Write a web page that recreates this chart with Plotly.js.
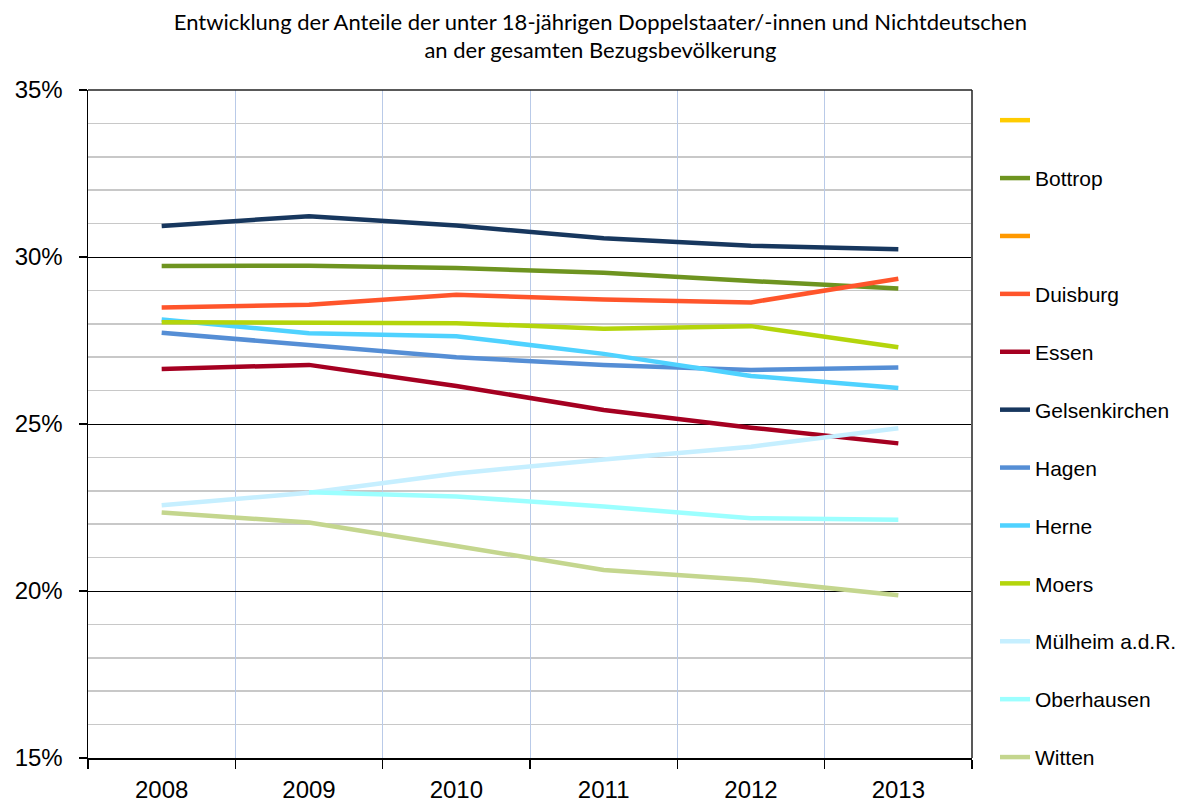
<!DOCTYPE html>
<html>
<head>
<meta charset="utf-8">
<script src="https://cdn.plot.ly/plotly-3.0.1.min.js"></script>
<style>html,body{margin:0;padding:0;background:#fff;}#chart{width:1196px;height:808px;}</style>
</head>
<body>
<div id="chart"></div>
<script>
var years = ['2008','2009','2010','2011','2012','2013'];
var seriesNames = [' ', 'Bottrop', '  ', 'Duisburg', 'Essen', 'Gelsenkirchen', 'Hagen', 'Herne', 'Moers', 'Mülheim a.d.R.', 'Oberhausen', 'Witten'];
var blank1 = [null, null, null, null, null, null];
var bottrop = [29.73, 29.74, 29.67, 29.53, 29.28, 29.06];
var blank2 = [null, null, null, null, null, null];
var duisburg = [28.49, 28.57, 28.87, 28.73, 28.64, 29.35];
var essen = [26.65, 26.77, 26.14, 25.42, 24.89, 24.42];
var gelsenkirchen = [30.93, 31.22, 30.94, 30.56, 30.34, 30.23];
var hagen = [27.73, 27.37, 27.00, 26.77, 26.62, 26.69];
var herne = [28.13, 27.72, 27.63, 27.10, 26.44, 26.08];
var moers = [28.05, 28.05, 28.02, 27.85, 27.93, 27.30];
var muelheim = [22.57, 22.94, 23.52, 23.94, 24.32, 24.87];
var oberhausen = [null, 22.96, 22.83, 22.53, 22.18, 22.13];
var witten = [22.35, 22.05, 21.35, 20.63, 20.33, 19.87];

var values = [blank1, bottrop, blank2, duisburg, essen, gelsenkirchen, hagen, herne, moers, muelheim, oberhausen, witten];
var colors = ['#FFCC00', '#6E9420', '#FF9900', '#FF552B', '#A50021', '#17375E', '#558ED5', '#4FD2FF', '#B4D50C', '#C6EFFF', '#9CFFFF', '#C4D68E'];

var traces = values.map(function (v, i) {
  return {
    type: 'scatter', mode: 'lines', x: years, y: v, name: seriesNames[i],
    legendgroup: 'g' + i, connectgaps: false,
    line: {color: colors[i], width: 4.5},
    hoverinfo: 'skip'
  };
});

var layout = {
  width: 1196, height: 808,
  paper_bgcolor: '#ffffff', plot_bgcolor: '#ffffff',
  margin: {l: 88, r: 224, t: 90, b: 50},
  title: {
    text: 'Entwicklung der Anteile der unter 18-jährigen Doppelstaater/-innen und Nichtdeutschen<br>an der gesamten Bezugsbevölkerung',
    font: {family: 'Lato, sans-serif', size: 22, color: '#000'},
    x: 0.502, xanchor: 'center', y: 0.963, yanchor: 'middle'
  },
  showlegend: true,
  legend: {
    x: 1.026, xanchor: 'left', y: 0.985, yanchor: 'top',
    traceorder: 'grouped', tracegroupgap: 27.6, maxheight: 800,
    font: {family: 'Liberation Sans, Arial, sans-serif', size: 21, color: '#000'},
    bgcolor: 'rgba(0,0,0,0)', itemwidth: 30
  },
  xaxis: {
    type: 'category', range: [-0.5, 5.5], tickson: 'boundaries',
    showgrid: true, gridcolor: '#B9CAE8', gridwidth: 1,
    showline: true, linecolor: '#000', linewidth: 1.5, mirror: false,
    ticks: 'outside', ticklen: 9, tickcolor: '#000', tickwidth: 1.5,
    ticklabelstandoff: 10,
    tickfont: {family: 'Liberation Sans, Arial, sans-serif', size: 24, color: '#000'},
    fixedrange: true, zeroline: false
  },
  yaxis: {
    range: [15, 35], dtick: 5, tick0: 15, ticksuffix: '%',
    showgrid: true, gridcolor: '#000', gridwidth: 1,
    minor: {dtick: 1, showgrid: true, gridcolor: '#C8C8C8', gridwidth: 1.5, ticks: ''},
    showline: true, linecolor: '#000', linewidth: 1.5, mirror: false,
    ticks: 'outside', ticklen: 8, tickcolor: '#000', tickwidth: 1.5,
    ticklabelstandoff: 11,
    tickfont: {family: 'Liberation Sans, Arial, sans-serif', size: 24, color: '#000'},
    fixedrange: true, zeroline: false
  },
  shapes: [
    {type: 'line', xref: 'paper', yref: 'paper', x0: 1, x1: 1, y0: 0, y1: 1, line: {color: '#595959', width: 2}},
    {type: 'line', xref: 'paper', yref: 'paper', x0: 0, x1: 1, y0: 1, y1: 1, line: {color: '#222', width: 1.5}}
  ]
};

Plotly.newPlot('chart', traces, layout, {displayModeBar: false, staticPlot: true});
</script>
</body>
</html>
